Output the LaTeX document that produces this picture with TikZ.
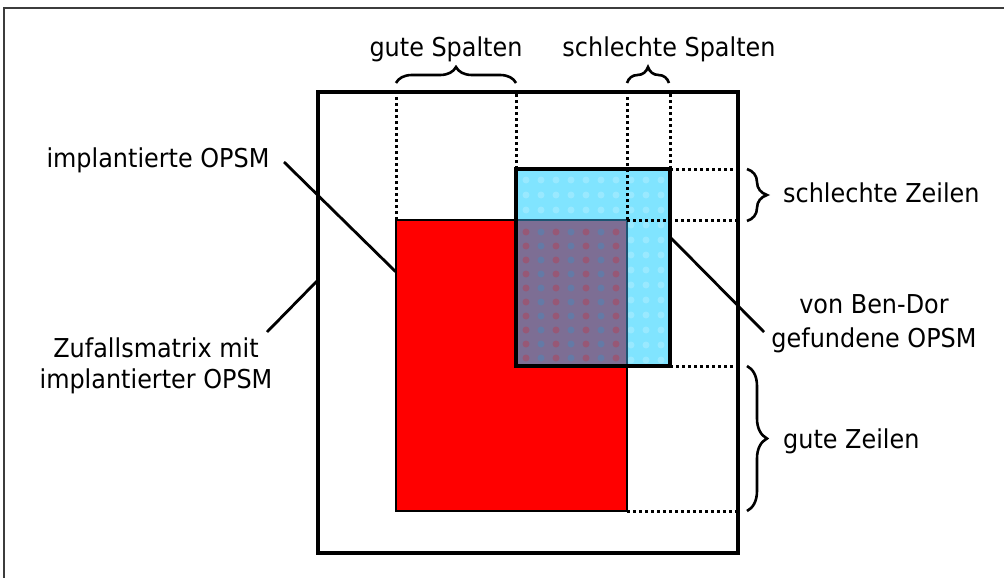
\documentclass[tikz,border=0pt]{standalone}
\usepackage{fontspec}
\setmainfont{DejaVu Sans}[FakeStretch=0.92]
\usetikzlibrary{decorations.pathreplacing,calc}
\definecolor{cyanfill}{RGB}{128,228,255}
\definecolor{mixfill}{RGB}{125,110,148}
\definecolor{edgeteal}{RGB}{30,85,115}
\definecolor{framegray}{RGB}{60,60,60}
\begin{document}
\begin{tikzpicture}[x=1pt,y=-1pt,
  lbl/.style={inner sep=0pt, font=\fontsize{26}{31}\selectfont},
  box/.style={inner sep=0pt, outer sep=0pt},
  dotline/.style={line width=3pt, dash pattern=on 3pt off 3pt},
  leader/.style={line width=2.8pt},
  bracestyle/.style={decorate, decoration={brace, amplitude=#1}, line width=2.6pt},
  frameline/.style={framegray, line width=1.5pt}]
\useasboundingbox (0,0) rectangle (1004,578);
\fill[white] (0,0) rectangle (1004,578);
% page frame (cut)
\draw[frameline] (4,578) -- (4,8) -- (1004,8);

% matrix outline
\node[box, draw, line width=3.2pt, minimum width=420pt, minimum height=461pt] (matrix) at (528,322.5) {};
% implanted OPSM (red)
\node[box, draw, fill=red, line width=2.8pt, minimum width=231pt, minimum height=291pt] (red) at (511.5,365.5) {};
% found OPSM (blue)
\node[box, fill=cyanfill, minimum width=154pt, minimum height=197pt] (blue) at (593,267.5) {};
\foreach \i in {0,...,9} \foreach \j in {0,...,12}
  \fill[white, opacity=0.2] (526+15*\i, 180+15*\j) circle (3.5);
\fill[mixfill] (blue.west |- red.north) rectangle (red.east |- blue.south);
\foreach \i in {0,2,4,6} \foreach \j in {0,...,9}
  \fill[red, opacity=0.2] (526+15*\i, 232+14*\j) circle (3.5);
\foreach \i in {1,3,5} \foreach \j in {0,...,9}
  \fill[cyan, opacity=0.2] (526+15*\i, 232+14*\j) circle (3.5);
\draw[edgeteal, line width=2pt] (blue.west |- red.north) -- (red.north east) -- (red.east |- blue.south);
\draw[line width=3.2pt] (blue.north west) rectangle (blue.south east);

% dotted guide lines
\draw[dotline] (red.north west) -- (red.north west |- matrix.north);
\draw[dotline] (blue.north west) -- (blue.north west |- matrix.north);
\draw[dotline] (red.north east) -- (red.north east |- matrix.north);
\draw[dotline] (blue.north east) -- (blue.north east |- matrix.north);
\draw[dotline] (blue.north east) -- (blue.north east -| matrix.east);
\draw[dotline] (red.north east) -- (red.north east -| matrix.east);
\draw[dotline] (blue.south east) -- (blue.south east -| matrix.east);
\draw[dotline] (red.south east) -- (red.south east -| matrix.east);

% braces
\coordinate (gsA) at (396,83);
\coordinate (gsB) at (516,83);
\coordinate (ssA) at (627,83);
\coordinate (ssB) at (669,83);
\coordinate (szA) at (747,169);
\coordinate (szB) at (747,221);
\coordinate (gzA) at (747,366);
\coordinate (gzB) at (747,511);
\draw[bracestyle=16pt] (gsA) -- (gsB);
\draw[bracestyle=16pt] (ssA) -- (ssB);
\draw[bracestyle=20pt] (szA) -- (szB);
\draw[bracestyle=20pt] (gzA) -- (gzB);

% labels
\node[lbl, anchor=base] (gs) at (446,57) {gute Spalten};
\node[lbl, anchor=base] (ss) at (669,57) {schlechte Spalten};
\node[lbl, anchor=base] (impl) at (158,167) {implantierte OPSM};
\node[lbl, anchor=base] (zuf1) at (156,357) {Zufallsmatrix mit};
\node[lbl, anchor=base] (zuf2) at (156,388) {implantierter OPSM};
\node[lbl, anchor=base west] (sz) at (783,202) {schlechte Zeilen};
\node[lbl, anchor=base] (bd1) at (874,313) {von Ben-Dor};
\node[lbl, anchor=base] (bd2) at (874,347) {gefundene OPSM};
\node[lbl, anchor=base west] (gz) at (783,448) {gute Zeilen};

% leader lines
\coordinate (implS) at (284,162);
\coordinate (zufS) at (267,332);
\coordinate (bdS) at (764,332);
\draw[leader] (implS) -- ($(red.north west)+(0,52)$);
\draw[leader] (zufS) -- ($(matrix.north west)+(0,188)$);
\draw[leader] (bdS) -- ($(blue.north east)+(0,68)$);
\end{tikzpicture}
\end{document}
